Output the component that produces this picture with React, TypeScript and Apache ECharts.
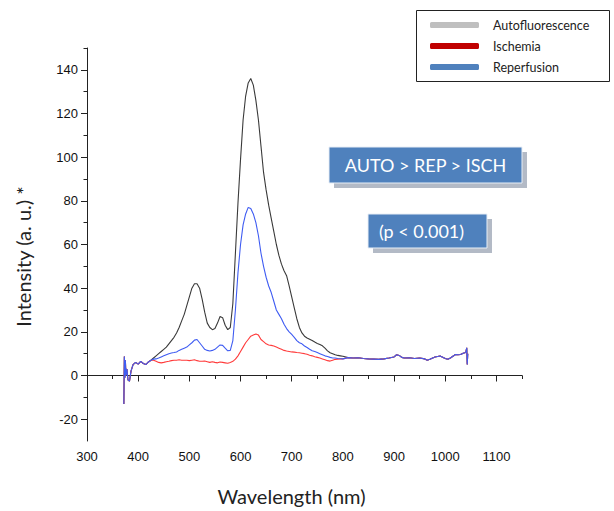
import React, { useEffect, useRef } from "react";
import * as echarts from "echarts";

// Wavelengths (nm) — start region, main region, tail region
const wlStart = [372, 373, 374, 375, 376, 378, 380, 383, 386, 390, 395, 400, 405, 410, 415, 420, 425];
const startVals = [-13, 8.7, -1, 7, 0, 3, -2, -2.6, 2, 5, 6, 5.2, 6.5, 5.5, 5, 6.2, 7];

const wlMid = [
  430, 435, 440, 445, 450, 455, 460, 465, 470, 475,
  480, 485, 490, 495, 500, 505, 510, 515, 520, 525,
  530, 535, 540, 545, 550, 555, 560, 565, 570, 575,
  580, 585, 590, 595, 600, 605, 610, 615, 620, 625,
  630, 635, 640, 645, 650, 655, 660, 665, 670, 675,
  680, 685, 690, 695, 700, 705, 710, 715, 720, 725,
  730, 735, 740, 745, 750, 755, 760, 765, 770, 775,
  780, 785, 790, 795, 800,
];
const autoMid = [
  8, 9, 10, 11, 12, 13, 14.5, 16, 17.5, 19.5,
  22, 25, 28, 32, 36, 40, 42, 42, 40, 35,
  29, 24, 22, 21, 21.5, 24, 27, 26.5, 23, 21,
  22, 33, 56, 79, 99, 117, 128, 134, 136, 133,
  126, 117, 105, 93, 85, 78, 72, 66, 60, 55,
  51, 48, 45.7, 41, 36, 31, 26, 22, 19.5, 18,
  17.2, 16.6, 16, 15.3, 14.7, 14.2, 13.6, 12.5, 11.3, 10.4,
  10, 9.5, 9.2, 9, 8.8,
];
const reperMid = [
  7.5, 7.6, 8, 8.5, 9, 9.5, 10, 10.3, 10.5, 10.8,
  11.5, 12, 12.5, 13, 14, 15, 16.2, 16.5, 15, 13.5,
  12, 11.5, 11.2, 11.5, 12, 13, 14, 13.8, 12.5, 11.3,
  11.5, 16, 30, 47, 60, 69, 74, 77, 76.5, 74,
  70, 64, 56, 50, 45, 41, 38, 34, 30, 28,
  26, 23.5, 21.5, 20, 18.8, 17.5, 16, 15, 14.5, 13.5,
  12.8, 12, 11.3, 11, 10.5, 10, 9.5, 9, 8.7, 8.3,
  8, 8, 7.8, 7.7, 7.6,
];
const ischMid = [
  7, 6.5, 6, 5.8, 6, 6.3, 6.5, 6.8, 7, 7,
  7.2, 7, 7, 7, 6.8, 7, 7.2, 6.8, 6.5, 6.5,
  6.6, 6.3, 6, 6.3, 6, 5.8, 6.2, 6, 5.8, 5.6,
  6, 6.5, 7.5, 9, 11, 13, 15, 16.5, 18, 18.5,
  19, 18.5, 16.5, 15.5, 14.5, 14, 13.8, 13.5, 13, 12.5,
  12, 11.5, 11.2, 11, 10.8, 10.7, 10.5, 10.4, 10.2, 10,
  9.7, 9.3, 9, 8.6, 8.3, 8, 7.6, 7.2, 6.8, 6.6,
  7, 7.4, 7.5, 7.6, 7.6,
];

const wlTail = [810, 820, 830, 840, 850, 860, 870, 880, 890, 900, 905, 910, 915, 920, 930, 940, 950, 960, 965, 970, 980, 990, 1000, 1005, 1010, 1020, 1025, 1030, 1035, 1040, 1042, 1043, 1044];
const tailVals = [8.2, 8, 8.1, 7.8, 7.6, 7.5, 7.4, 7.6, 8, 8.5, 9.5, 9.2, 8.3, 8, 8.1, 7.8, 8, 7.6, 7, 7.4, 8.5, 8.9, 7.8, 7.4, 8, 9.6, 9.5, 9.6, 10.2, 10.5, 12.7, 5, 10];

const xLabelTicks = [300, 400, 500, 600, 700, 800, 900, 1000, 1100];
const xMinorTicks = [350, 450, 550, 650, 750, 850, 950, 1050, 1150];
const yLabelTicks = [-20, 0, 20, 40, 60, 80, 100, 120, 140];
const yMinorTicks = [-10, 10, 30, 50, 70, 90, 110, 130, 150];

const seriesNames = ["Autofluorescence", "Ischemia", "Reperfusion"];
const legendColors = ["#bfbfbf", "#c00000", "#4f81bd"];
const lineColors = ["#3a3a3a", "#ff3b3b", "#3f5cf2"];

const wavelengths = [...wlStart, ...wlMid, ...wlTail];
const autoValues = [...startVals, ...autoMid, ...tailVals];
const ischValues = [...startVals, ...ischMid, ...tailVals];
const reperValues = [...startVals, ...reperMid, ...tailVals];

const zip = (vals: number[]) => wavelengths.map((w, i) => [w, vals[i]]);

export default function App() {
  const ref = useRef<HTMLDivElement>(null);
  useEffect(() => {
    if (!ref.current) return;
    const chart = echarts.init(ref.current, null, { renderer: "svg" });
    const tickFont = { fontFamily: "Liberation Sans", fontSize: 13, color: "#111", formatter: (v: number) => String(v) };
    const data = [autoValues, ischValues, reperValues];
    chart.setOption({
      animation: false,
      backgroundColor: "#ffffff",
      grid: { left: 87, right: 92, top: 48, bottom: 70, containLabel: false },
      legend: {
        orient: "vertical",
        left: 430,
        top: 18,
        padding: 0,
        itemGap: 7,
        itemWidth: 49,
        itemHeight: 6,
        icon: "roundRect",
        selectedMode: false,
        textStyle: { fontFamily: "Lato", fontSize: 12.5, color: "#222", lineHeight: 14, padding: [0, 0, 0, 9] },
        data: seriesNames.map((n, i) => ({ name: n, itemStyle: { color: legendColors[i] } })),
      },
      xAxis: [
        {
          type: "value",
          min: 300,
          max: 1150,
          axisLine: { show: true, lineStyle: { color: "#222", width: 1 } },
          axisTick: { show: true, customValues: xLabelTicks, length: 6, lineStyle: { color: "#222" } },
          axisLabel: { customValues: xLabelTicks, margin: 9, ...tickFont },
          splitLine: { show: false },
          name: "Wavelength (nm)",
          nameLocation: "middle",
          nameGap: 45,
          nameTextStyle: { fontFamily: "Lato", fontSize: 20, color: "#222", padding: [0, 26, 0, 0] },
        },
        {
          type: "value",
          position: "bottom",
          min: 300,
          max: 1150,
          axisLine: { show: false },
          axisTick: { show: true, customValues: xMinorTicks, length: 3.5, lineStyle: { color: "#222" } },
          axisLabel: { show: false },
          splitLine: { show: false },
        },
      ],
      yAxis: [
        {
          type: "value",
          min: -30,
          max: 150,
          axisLine: { show: true, lineStyle: { color: "#222", width: 1 } },
          axisTick: { show: true, customValues: yLabelTicks, length: 6, lineStyle: { color: "#222" } },
          axisLabel: { customValues: yLabelTicks, margin: 9, ...tickFont },
          splitLine: { show: false },
          name: "Intensity (a. u.) *",
          nameLocation: "middle",
          nameGap: 54,
          nameTextStyle: { fontFamily: "Lato", fontSize: 20, color: "#222", padding: [0, 24, 0, 0] },
        },
        {
          type: "value",
          position: "left",
          min: -30,
          max: 150,
          axisLine: { show: false },
          axisTick: { show: true, customValues: yMinorTicks, length: 3.5, lineStyle: { color: "#222" } },
          axisLabel: { show: false },
          splitLine: { show: false },
        },
      ],
      series: seriesNames.map((n, i) => ({
        name: n,
        type: "line",
        xAxisIndex: 0,
        yAxisIndex: 0,
        symbol: "none",
        showSymbol: false,
        data: zip(data[i]),
        lineStyle: { color: lineColors[i], width: 1.1 },
        itemStyle: { color: lineColors[i] },
        z: 2 + i,
      })),
      graphic: [
        {
          type: "rect",
          shape: { x: 416.5, y: 10.5, width: 193, height: 71 },
          style: { fill: "none", stroke: "#222", lineWidth: 1 },
          z: 10,
        },
        {
          type: "rect",
          shape: { x: 334, y: 152, width: 193, height: 36 },
          style: { fill: "#b3bac6" },
          z: 10,
        },
        {
          type: "rect",
          shape: { x: 329, y: 147, width: 193, height: 36 },
          style: { fill: "#4f81bd", stroke: "#e8eef6", lineWidth: 1 },
          z: 11,
        },
        {
          type: "text",
          x: 425.5,
          y: 165,
          style: { text: "AUTO > REP > ISCH", fill: "#ffffff", fontFamily: "Lato", fontSize: 18, align: "center", verticalAlign: "middle" },
          z: 12,
        },
        {
          type: "rect",
          shape: { x: 373, y: 219, width: 119, height: 34 },
          style: { fill: "#b3bac6" },
          z: 10,
        },
        {
          type: "rect",
          shape: { x: 368, y: 214, width: 119, height: 34 },
          style: { fill: "#4f81bd", stroke: "#e8eef6", lineWidth: 1 },
          z: 11,
        },
        {
          type: "text",
          x: 421.5,
          y: 231,
          style: { text: "(p < 0.001)", fill: "#ffffff", fontFamily: "Lato", fontSize: 18, align: "center", verticalAlign: "middle" },
          z: 12,
        },
      ],
    });
    return () => chart.dispose();
  }, []);
  return <div ref={ref} style={{ position: "fixed", left: 0, top: 0, width: 614, height: 511, background: "#fff" }} />;
}
